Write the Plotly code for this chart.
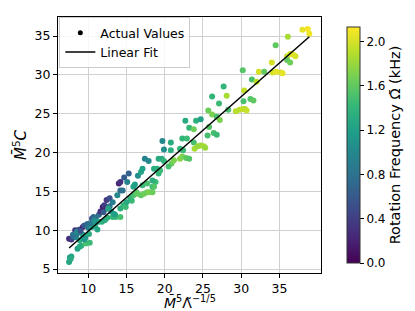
import numpy as np
import plotly.graph_objects as go

# Data
x_vals = [7.5, 7.6, 7.8, 7.7, 7.5, 7.8, 7.9, 8.1, 8.4, 8.3, 8.7, 8.9, 9.3, 8.6, 8.9, 9.1, 8.6, 8.9, 9.7, 10.2,
          9.3, 9.5, 10.1, 9.5, 9.9, 10.0, 10.5, 10.9, 10.5, 10.7, 11.0, 11.4, 11.6, 11.4, 11.8, 12.2, 12.5, 11.9, 12.1, 12.4,
          12.0, 12.4, 12.8, 12.8, 13.2, 12.6, 13.2, 13.6, 14.2, 13.4, 14.2, 14.6, 14.9, 13.8, 14.0, 14.2, 14.2, 14.5, 14.7, 15.3,
          15.1, 15.7, 15.5, 15.9, 16.3, 15.9, 16.1, 16.5, 16.4, 16.9, 17.3, 17.7, 18.0, 18.4, 17.1, 17.7, 18.4, 18.8, 18.6, 16.9,
          17.1, 17.4, 17.9, 18.4, 18.6, 19.0, 19.2, 19.4, 19.2, 19.6, 19.9, 19.7, 19.9, 20.8, 20.8, 20.9, 20.5, 21.2, 22.0, 22.0,
          22.4, 22.3, 22.8, 23.2, 22.3, 22.9, 23.8, 23.9, 24.3, 24.7, 25.1, 25.3, 22.7, 24.1, 24.7, 23.2, 23.8, 25.8, 25.6, 26.4,
          26.8, 25.7, 26.2, 26.8, 27.2, 26.2, 27.1, 27.7, 28.1, 28.3, 29.3, 29.8, 30.2, 30.5, 30.7, 30.4, 30.3, 31.2, 31.6, 30.2,
          31.4, 32.0, 32.3, 33.0, 34.1, 34.6, 35.2, 35.4, 34.0, 34.5, 36.0, 36.4, 36.8, 37.1, 36.0, 36.4, 36.1, 38.0, 38.7, 38.9,
          8.0, 8.5, 9.0, 9.6, 10.3, 10.8, 11.2, 13.0, 13.5, 15.0]
y_vals = [5.9, 6.5, 6.6, 6.3, 8.9, 8.8, 9.0, 9.2, 9.1, 10.0, 10.0, 10.1, 10.4, 9.6, 8.7, 8.0, 7.6, 7.9, 8.3, 8.4,
          9.4, 8.8, 9.5, 10.6, 10.8, 10.3, 10.4, 10.6, 11.5, 11.7, 11.6, 12.0, 12.4, 11.1, 11.1, 11.3, 11.6, 13.0, 13.2, 12.8,
          12.3, 13.9, 14.1, 13.1, 13.6, 12.8, 11.7, 11.7, 11.7, 12.1, 12.8, 13.2, 13.0, 14.5, 16.0, 16.2, 15.1, 15.1, 16.8, 17.3,
          16.2, 13.8, 14.1, 14.5, 14.9, 15.6, 15.9, 17.0, 14.7, 14.5, 14.7, 14.9, 14.9, 14.9, 15.8, 16.0, 15.6, 16.2, 15.6, 17.5,
          17.9, 19.2, 18.9, 16.4, 17.9, 17.9, 17.3, 17.7, 19.2, 19.2, 18.9, 21.5, 20.4, 21.3, 20.3, 18.6, 18.2, 19.0, 19.2, 20.5,
          20.3, 19.5, 19.3, 19.2, 21.8, 21.8, 21.3, 20.5, 20.8, 20.9, 20.8, 20.6, 24.1, 24.1, 24.3, 23.2, 23.0, 23.3, 22.2, 22.5,
          22.3, 25.4, 24.9, 24.6, 24.2, 27.2, 26.3, 28.5, 27.3, 25.5, 25.3, 25.5, 25.6, 25.6, 25.4, 28.0, 26.6, 26.9, 26.7, 30.6,
          29.4, 29.1, 30.4, 30.4, 30.3, 30.4, 30.3, 30.2, 31.6, 33.8, 32.4, 32.7, 32.6, 32.4, 31.9, 31.6, 34.9, 35.8, 35.9, 35.3,
          9.4, 9.8, 9.9, 9.0, 10.9, 11.2, 10.1, 12.4, 12.0, 13.6]
omega_vals = [1.25, 1.2, 1.25, 1.3, 0.25, 0.3, 0.45, 0.7, 0.9, 0.3, 0.35, 0.5, 0.2, 0.85, 1.3, 1.4, 1.2, 1.3, 1.5, 1.45,
              1.2, 1.1, 1.3, 0.6, 0.7, 0.9, 1.2, 1.3, 0.5, 0.7, 0.8, 0.75, 0.3, 1.3, 1.35, 1.3, 1.35, 0.15, 0.4, 0.2,
              0.6, 0.35, 0.5, 0.8, 0.9, 1.25, 1.4, 1.45, 1.5, 1.3, 1.35, 1.4, 1.45, 1.0, 0.2, 0.3, 0.75, 0.8, 0.6, 0.65,
              0.95, 1.45, 1.4, 1.5, 1.55, 1.25, 1.2, 1.05, 1.6, 1.6, 1.65, 1.65, 1.7, 1.65, 1.45, 1.5, 1.4, 1.45, 1.55, 1.25,
              1.2, 0.95, 1.0, 1.35, 1.3, 1.35, 1.4, 1.45, 1.3, 1.3, 1.4, 1.0, 1.05, 1.3, 1.35, 1.65, 1.5, 1.7, 1.75, 1.4,
              1.45, 1.7, 1.6, 1.55, 1.4, 1.45, 1.5, 1.85, 1.8, 1.8, 1.85, 1.8, 1.3, 1.35, 1.2, 1.4, 1.65, 1.55, 1.5, 1.5,
              1.45, 1.65, 1.7, 1.5, 1.7, 1.4, 1.45, 1.4, 1.85, 1.5, 1.9, 1.9, 1.95, 1.9, 1.95, 1.95, 1.5, 1.55, 1.6, 1.55,
              1.5, 1.9, 2.0, 1.6, 2.0, 2.05, 2.0, 2.05, 2.0, 1.6, 1.95, 2.0, 2.05, 2.0, 1.6, 1.65, 1.85, 2.05, 2.1, 2.08,
              0.8, 1.0, 0.55, 1.15, 0.85, 1.1, 1.25, 1.15, 1.2, 1.3]

fit_slope = 0.866
fit_intercept = 1.22
cbar_ticks = [0.0, 0.4, 0.8, 1.2, 1.6, 2.0]

fx = np.array([min(x_vals), max(x_vals)])
fy = fit_slope * fx + fit_intercept

FONT = "DejaVu Sans"
fig = go.Figure()
fig.add_trace(go.Scatter(
    x=x_vals, y=y_vals, mode="markers", showlegend=False,
    marker=dict(size=6, color=omega_vals, colorscale="Viridis", cmin=0, cmax=2.13,
                colorbar=dict(
                    x=1.061, xanchor="left", y=0, yanchor="bottom", len=1, lenmode="fraction",
                    thickness=13, outlinewidth=1, outlinecolor="#333333",
                    tickvals=cbar_ticks, tickformat=".1f", ticks="outside", ticklen=4,
                    tickcolor="black", tickfont=dict(family=FONT, size=12, color="black"),
                    title=dict(text="Rotation Frequency Ω̄ (kHz)", side="right",
                               font=dict(family=FONT, size=14.5, color="black")),
                )),
))
fig.add_trace(go.Scatter(x=[None], y=[None], mode="markers", name="Actual Values",
                         marker=dict(size=5, color="black")))
fig.add_trace(go.Scatter(x=fx, y=fy, mode="lines", name="Linear Fit",
                         line=dict(color="black", width=1.5)))

axis_common = dict(showline=True, linecolor="black", linewidth=1, mirror=True,
                   ticks="outside", ticklen=4, tickcolor="black",
                   showgrid=True, gridcolor="#d0d0d0", gridwidth=1.3, zeroline=False,
                   tickfont=dict(family=FONT, size=12.5, color="black"))
fig.update_xaxes(range=[6.05, 40.43], tickvals=[10, 15, 20, 25, 30, 35], **axis_common)
fig.update_yaxes(range=[4.49, 37.45], tickvals=[5, 10, 15, 20, 25, 30, 35],
                 title=dict(text="<i>M̄</i><sup>5</sup><i>C</i>", standoff=4,
                            font=dict(family=FONT, size=15, color="black")), **axis_common)
fig.add_annotation(text="<i>M̄</i><sup>5</sup>Λ̃<sup>−1/5</sup>", xref="paper", yref="paper",
                   x=0.5, y=-0.115, xanchor="center", yanchor="middle", showarrow=False,
                   font=dict(family=FONT, size=14, color="black"))
fig.update_layout(
    width=415, height=311, margin=dict(l=50, r=86, t=9, b=46),
    paper_bgcolor="white", plot_bgcolor="white",
    font=dict(family=FONT, size=12, color="black"),
    legend=dict(x=0.005, y=1.0, xanchor="left", yanchor="top",
                bgcolor="rgba(255,255,255,0.85)", bordercolor="#cccccc", borderwidth=1,
                font=dict(family=FONT, size=12.5, color="black"),
                tracegroupgap=0, itemwidth=30),
)
fig.write_html("out.html")
